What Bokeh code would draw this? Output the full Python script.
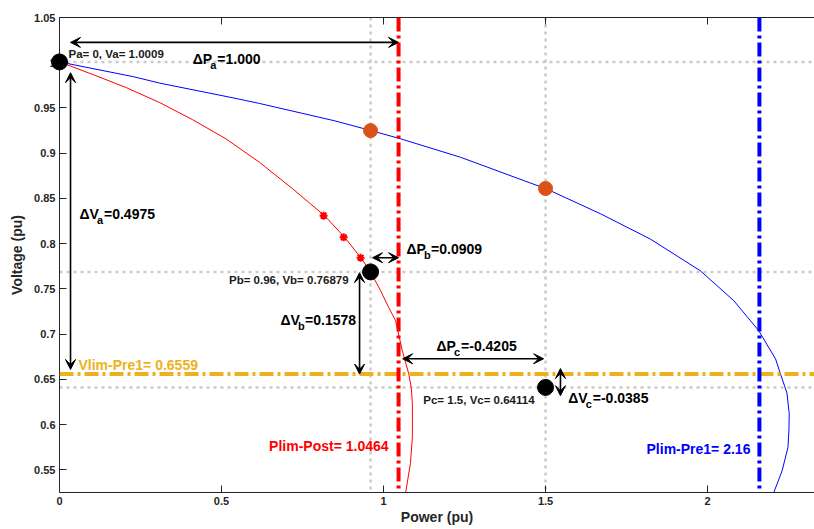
from bokeh.plotting import figure
from bokeh.models import Span, Arrow, VeeHead, LinearAxis, FixedTicker, Range1d
from bokeh.core.properties import value
from bokeh.embed import file_html
from bokeh.resources import INLINE

# ---- PV curves (power in pu, voltage in pu) ----
pre_p = [0, 0.229, 0.309, 0.538, 0.617, 0.847, 0.962, 1.052, 1.238, 1.433, 1.5,
         1.670, 1.824, 1.978, 2.081, 2.158, 2.210, 2.225, 2.245, 2.252, 2.251,
         2.248, 2.230, 2.199]
pre_v = [1.0009, 0.9845, 0.9775, 0.961, 0.955, 0.936, 0.925, 0.916, 0.8955, 0.8697,
         0.861, 0.833, 0.805, 0.770, 0.737, 0.7038, 0.6725, 0.656, 0.635, 0.612,
         0.593, 0.5747, 0.549, 0.520]

post_p = [0, 0.103, 0.206, 0.309, 0.411, 0.514, 0.617, 0.720, 0.818, 0.880, 0.931,
          0.960, 0.991, 1.016, 1.037, 1.058, 1.078, 1.086, 1.089, 1.089, 1.083, 1.066]
post_v = [1.0009, 0.987, 0.9725, 0.956, 0.937, 0.9158, 0.890, 0.8605, 0.831, 0.807,
          0.784, 0.7688, 0.748, 0.7295, 0.715, 0.6816, 0.656, 0.640, 0.6227, 0.586,
          0.557, 0.520]

# ---- operating points ----
pa, va = 0.0, 1.0009
pb, vb = 0.96, 0.76879
pc, vc = 1.5, 0.64114
pre_pts_p = [0.96, 1.5]
pre_pts_v = [0.925, 0.861]
star_p = [0.815, 0.877, 0.929]
star_v = [0.831, 0.807, 0.7845]

# ---- limits ----
plim_post = 1.0464
plim_pre1 = 2.16
vlim_pre1 = 0.6559

# ---- margins ----
delta_names = ["\u0394P", "\u0394V", "\u0394P", "\u0394V", "\u0394P", "\u0394V"]
delta_subs = ["a", "a", "b", "b", "c", "c"]
delta_vals = [1.000, 0.4975, 0.0909, 0.1578, -0.4205, -0.0385]
delta_digits = [3, 4, 4, 4, 4, 4]

# ---- axes ----
x_ticks = [0, 0.5, 1, 1.5, 2]
x_tick_labels = ["0", "0.5", "1", "1.5", "2"]
y_ticks = [0.55, 0.6, 0.65, 0.7, 0.75, 0.8, 0.85, 0.9, 0.95, 1, 1.05]
y_tick_labels = ["0.55", "0.6", "0.65", "0.7", "0.75", "0.8", "0.85", "0.9", "0.95", "1", "1.05"]
x_lim = (0, 2.33)
y_lim = (0.525, 1.05)

FONT = "Liberation Sans"
AXIS_COLOR = "#262626"
GRAY = "#cdcac5"
ORANGE = "#D95319"
YELLOW = "#EDB120"
DASHDOT = "14 4 3 4"
LIFT = -4.5  # raise annotation text so its baseline sits where intended

p = figure(width=814, height=529, x_range=Range1d(*x_lim), y_range=Range1d(*y_lim),
           output_backend="svg", toolbar_location=None,
           min_border_left=59, min_border_right=0, min_border_top=17, min_border_bottom=37)
p.grid.visible = False
p.outline_line_color = None
p.background_fill_color = "white"
p.border_fill_color = "white"

x_axis = p.below[0]
y_axis = p.left[0]
x_axis.ticker = FixedTicker(ticks=x_ticks)
x_axis.major_label_overrides = dict(zip(x_ticks, x_tick_labels))
y_axis.ticker = FixedTicker(ticks=y_ticks)
y_axis.major_label_overrides = dict(zip(y_ticks, y_tick_labels))
x_axis.axis_label = "Power (pu)"
y_axis.axis_label = "Voltage (pu)"

# top box edge with inward ticks, no labels
top_axis = LinearAxis(ticker=FixedTicker(ticks=x_ticks))
p.add_layout(top_axis, "above")

for ax in (x_axis, y_axis, top_axis):
    ax.major_tick_in = 7
    ax.major_tick_out = 0
    ax.minor_tick_line_color = None
    ax.axis_line_color = AXIS_COLOR
    ax.major_tick_line_color = AXIS_COLOR
    ax.major_label_text_font = FONT
    ax.major_label_text_font_style = "bold"
    ax.major_label_text_color = AXIS_COLOR
    ax.major_label_text_font_size = "11px"
    ax.major_label_standoff = 4
    ax.axis_label_text_font = FONT
    ax.axis_label_text_font_style = "bold"
    ax.axis_label_text_font_size = "14px"
    ax.axis_label_text_color = AXIS_COLOR
top_axis.major_label_text_color = None
top_axis.major_label_text_font_size = "1px"
top_axis.major_label_standoff = 0
x_axis.axis_label_standoff = 1
y_axis.axis_label_standoff = 6

# dotted reference lines through the operating points
for v in [va, vb, vc]:
    p.add_layout(Span(location=v, dimension="width", line_color=GRAY, line_width=2.5,
                      line_dash="3 4", level="underlay"))
for x in [pb, pc]:
    p.add_layout(Span(location=x, dimension="height", line_color=GRAY, line_width=2.5,
                      line_dash="3 4", level="underlay"))

# PV curves
p.line(pre_p, pre_v, line_color="#0000ff", line_width=1)
p.line(post_p, post_v, line_color="#ff0000", line_width=1)

# limit lines
p.add_layout(Span(location=vlim_pre1, dimension="width", line_color=YELLOW, line_width=4,
                  line_dash=DASHDOT))
p.add_layout(Span(location=plim_post, dimension="height", line_color="#ff0000", line_width=4,
                  line_dash=DASHDOT))
p.add_layout(Span(location=plim_pre1, dimension="height", line_color="#0000ff", line_width=4,
                  line_dash=DASHDOT))

# double-headed arrows showing the margins
def double_arrow(x0, y0, x1, y1):
    head = dict(size=10, fill_color="black", line_color="black", line_width=1)
    p.add_layout(Arrow(start=VeeHead(**head), end=VeeHead(**head),
                       x_start=x0, y_start=y0, x_end=x1, y_end=y1,
                       line_color="black", line_width=1.6))

double_arrow(0.034, 1.0225, plim_post, 1.0225)
double_arrow(0.034, 0.989, 0.034, 0.661)
double_arrow(0.966, 0.7845, plim_post, 0.7845)
double_arrow(0.926, 0.768, 0.926, vlim_pre1)
double_arrow(1.059, 0.6728, 1.494, 0.6728)
double_arrow(1.546, 0.662, 1.546, 0.632)

# markers (drawn on top, not clipped at the frame)
p.scatter(star_p, star_v, marker="asterisk", size=8, line_color="#ff0000", line_width=2)
p.scatter(pre_pts_p, pre_pts_v, size=14, fill_color=ORANGE, line_color=ORANGE, level="overlay")
p.scatter([pa, pb, pc], [va, vb, vc], size=16, fill_color="black", line_color="black",
          level="overlay")


def put_text(x, y, s, size="14px", color="black", align="left", dx=0, dy=0):
    p.text(x=[x], y=[y], text=[s], text_font=value(FONT), text_font_style="bold",
           text_font_size=size, text_color=color, text_align=align,
           text_baseline="alphabetic", x_offset=dx, y_offset=dy + LIFT)


# point readouts
put_text(pa, va, f"Pa= {pa:g}, Va= {va:g}", size="11.5px", color="#1a1a1a", dx=9, dy=-3.5)
put_text(pb, vb, f"Pb= {pb:g}, Vb= {vb:g}", size="11.5px", color="#1a1a1a", align="right",
         dx=-22, dy=13)
put_text(pc, vc, f"Pc= {pc:g}, Vc= {vc:g}", size="11.5px", color="#1a1a1a", align="right",
         dx=-11, dy=17.5)

# limit labels
put_text(0, vlim_pre1, f"Vlim-Pre1= {vlim_pre1:g}", size="14px", color=YELLOW, dx=19, dy=-5)
put_text(plim_post, 0.5718, f"Plim-Post= {plim_post:g}", color="#ff0000", align="right", dx=-10)
put_text(plim_pre1, 0.5680, f"Plim-Pre1= {plim_pre1:g}", color="#0000ff", align="right", dx=-9)

# margin labels with subscripts
delta_label_pos = [(0.4114, 0.9995), (0.0617, 0.8277), (1.0710, 0.7889),
                   (0.6821, 0.7110), (1.1636, 0.6816), (1.5701, 0.6244)]
for (x, y), name, sub, val, nd in zip(delta_label_pos, delta_names, delta_subs,
                                      delta_vals, delta_digits):
    put_text(x, y, name)
    put_text(x, y, sub, size="11px", dx=17.5, dy=6)
    put_text(x, y, f"={val:.{nd}f}", dx=24.5)

open("out.html", "w").write(file_html(p, INLINE))
